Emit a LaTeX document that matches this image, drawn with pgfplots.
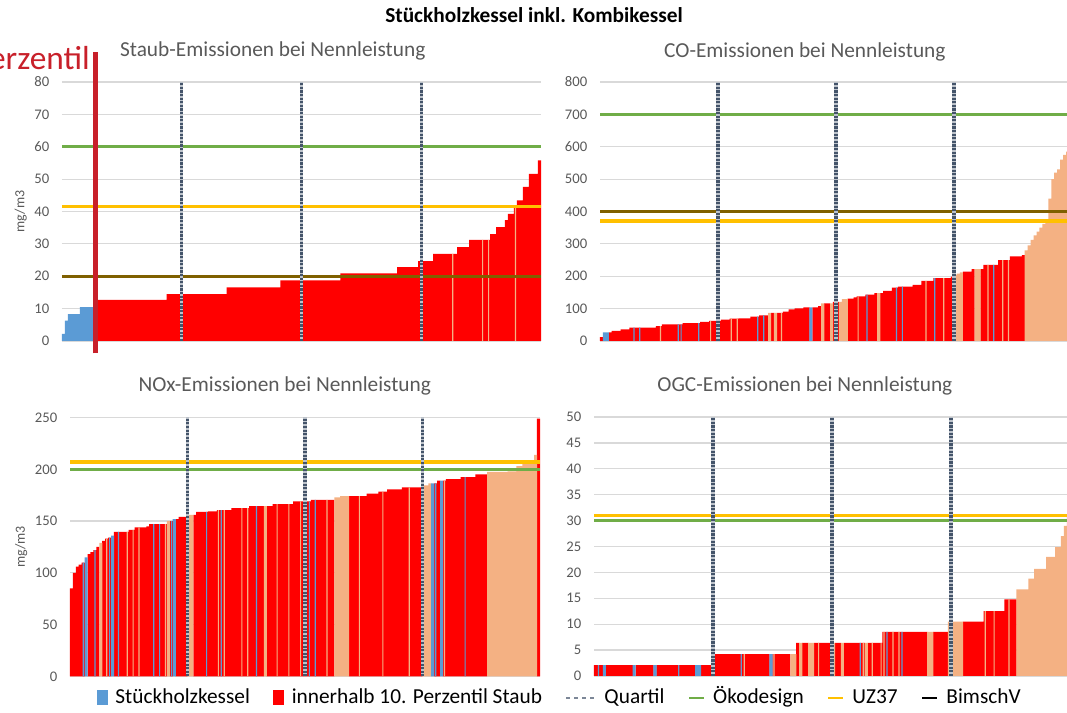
\documentclass[border=0pt]{standalone}
\usepackage{fontspec}
\setmainfont{Carlito}
\usepackage{pgfplots}
\usepackage{pgfplotstable}
\pgfplotsset{compat=1.18}

\definecolor{cblue}{HTML}{5B9BD5}
\definecolor{cred}{HTML}{FF0000}
\definecolor{csalmon}{HTML}{F4B183}
\definecolor{cgreen}{HTML}{70AD47}
\definecolor{cyellow}{HTML}{FFC000}
\definecolor{cbrown}{HTML}{7F6000}
\definecolor{cquart}{HTML}{44546A}
\definecolor{cgrid}{HTML}{D9D9D9}
\definecolor{ctext}{HTML}{595959}
\definecolor{cperz}{HTML}{C8202A}

% one row per device, sorted; c: 0 red, 1 salmon, 2 blue, 3 red+thin salmon, 4 red+thin blue
\pgfplotstableread[row sep=\\]{
y c\\
2.2 2\\ 6.3 2\\ 8.3 2\\ 8.3 2\\ 8.3 2\\ 8.3 2\\ 10.5 2\\ 10.5 2\\ 10.5 2\\ 10.5 2\\
10.5 2\\ 12.7 0\\ 12.7 0\\ 12.7 0\\ 12.7 0\\ 12.7 0\\ 12.7 0\\ 12.7 0\\ 12.7 0\\ 12.7 0\\
12.7 0\\ 12.7 0\\ 12.7 0\\ 12.7 0\\ 12.7 0\\ 12.7 0\\ 12.7 0\\ 12.7 0\\ 12.7 0\\ 12.7 0\\
12.7 0\\ 12.7 0\\ 12.7 0\\ 12.7 0\\ 12.7 0\\ 14.5 0\\ 14.5 0\\ 14.5 0\\ 14.5 0\\ 14.5 0\\
14.5 0\\ 14.5 0\\ 14.5 0\\ 14.5 0\\ 14.5 0\\ 14.5 0\\ 14.5 0\\ 14.5 0\\ 14.5 0\\ 14.5 0\\
14.5 0\\ 14.5 0\\ 14.5 0\\ 14.5 0\\ 14.5 0\\ 16.6 0\\ 16.6 0\\ 16.6 0\\ 16.6 0\\ 16.6 0\\
16.6 0\\ 16.6 0\\ 16.6 0\\ 16.6 0\\ 16.6 0\\ 16.6 0\\ 16.6 0\\ 16.6 0\\ 16.6 0\\ 16.6 0\\
16.6 0\\ 16.6 0\\ 16.6 0\\ 18.7 0\\ 18.7 0\\ 18.7 0\\ 18.7 0\\ 18.7 0\\ 18.7 0\\ 18.7 0\\
18.7 0\\ 18.7 0\\ 18.7 0\\ 18.7 0\\ 18.7 0\\ 18.7 0\\ 18.7 0\\ 18.7 0\\ 18.7 0\\ 18.7 0\\
18.7 0\\ 18.7 0\\ 18.7 0\\ 20.9 0\\ 20.9 0\\ 20.9 0\\ 20.9 0\\ 20.9 0\\ 20.9 0\\ 20.9 0\\
20.9 0\\ 20.9 0\\ 20.9 0\\ 20.9 0\\ 20.9 0\\ 20.9 0\\ 20.9 0\\ 20.9 0\\ 20.9 0\\ 20.9 0\\
20.9 0\\ 20.9 0\\ 22.8 0\\ 22.8 0\\ 22.8 0\\ 22.8 0\\ 22.8 0\\ 22.8 0\\ 22.8 0\\ 24.7 0\\
24.7 0\\ 24.7 0\\ 24.7 0\\ 24.7 0\\ 26.9 0\\ 26.9 0\\ 26.9 0\\ 26.9 0\\ 26.9 0\\ 26.9 0\\
26.9 3\\ 26.9 0\\ 29.0 0\\ 29.0 0\\ 29.0 0\\ 29.0 0\\ 31.2 0\\ 31.2 0\\ 31.2 0\\ 31.2 0\\
31.2 3\\ 31.2 0\\ 31.2 3\\ 33.0 0\\ 33.0 0\\ 35.2 0\\ 35.2 0\\ 35.2 0\\ 37.3 0\\ 39.3 0\\
39.3 0\\ 41.5 3\\ 43.4 0\\ 43.4 0\\ 47.6 0\\ 47.6 0\\ 51.6 0\\ 51.6 0\\ 51.6 0\\ 55.8 0\\
}\staub

\pgfplotstableread[row sep=\\]{
y c\\
12 0\\ 27 2\\ 27 2\\ 27 0\\ 31 0\\ 31 0\\ 31 0\\ 36 0\\ 36 0\\ 36 0\\
41 0\\ 41 4\\ 41 0\\ 41 4\\ 41 0\\ 41 0\\ 41 0\\ 41 0\\ 41 0\\ 46 0\\
46 3\\ 51 0\\ 51 0\\ 51 0\\ 51 0\\ 51 0\\ 51 4\\ 51 4\\ 55 0\\ 55 0\\
55 0\\ 55 0\\ 55 0\\ 55 4\\ 59 0\\ 59 0\\ 59 0\\ 62 3\\ 62 0\\ 62 0\\
62 0\\ 66 0\\ 66 0\\ 66 0\\ 69 3\\ 69 0\\ 69 3\\ 70 0\\ 70 0\\ 70 0\\
70 0\\ 75 0\\ 75 0\\ 75 4\\ 79 0\\ 79 4\\ 79 0\\ 87 1\\ 87 0\\ 87 1\\
87 0\\ 87 3\\ 91 0\\ 91 0\\ 98 0\\ 98 0\\ 101 0\\ 101 0\\ 101 0\\ 104 0\\
104 0\\ 104 2\\ 104 0\\ 104 0\\ 108 0\\ 116 1\\ 116 0\\ 116 0\\ 116 1\\ 121 0\\
121 0\\ 121 1\\ 129 1\\ 129 1\\ 131 0\\ 131 0\\ 135 0\\ 138 3\\ 138 0\\ 138 0\\
143 4\\ 143 0\\ 143 0\\ 148 0\\ 148 1\\ 148 0\\ 155 0\\ 155 0\\ 155 0\\ 165 0\\
165 4\\ 168 0\\ 168 4\\ 168 0\\ 168 0\\ 168 0\\ 173 0\\ 173 0\\ 173 0\\ 186 0\\
186 3\\ 186 0\\ 186 0\\ 194 4\\ 194 0\\ 194 0\\ 194 3\\ 194 0\\ 194 0\\ 199 0\\
205 1\\ 208 1\\ 212 1\\ 214 0\\ 214 0\\ 214 0\\ 222 0\\ 222 1\\ 222 1\\ 222 0\\
235 0\\ 235 3\\ 235 0\\ 235 4\\ 235 0\\ 250 0\\ 250 3\\ 250 0\\ 250 3\\ 261 0\\
261 0\\ 261 0\\ 261 0\\ 265 0\\ 280 1\\ 295 1\\ 312 1\\ 326 1\\ 338 1\\ 350 1\\
362 1\\ 376 1\\ 440 1\\ 500 1\\ 520 1\\ 530 1\\ 560 1\\ 575 1\\ 585 1\\ 600 1\\
}\co

\pgfplotstableread[row sep=\\]{
y c\\
85 0\\ 100 0\\ 106 0\\ 108 0\\ 110 4\\ 115 2\\ 118 0\\ 120 0\\ 122 4\\ 125 0\\
129 1\\ 131 0\\ 133 3\\ 134 4\\ 136 2\\ 139.5 0\\ 139.5 4\\ 139.5 0\\ 139.5 0\\ 139.5 3\\
141.5 0\\ 141.5 3\\ 144 0\\ 144 3\\ 144 0\\ 144 0\\ 145 0\\ 147 0\\ 147 4\\ 147 0\\
147 4\\ 147 0\\ 147 3\\ 150 1\\ 150 4\\ 152 2\\ 152 0\\ 154 0\\ 154 0\\ 154 0\\
156 1\\ 156 1\\ 156 0\\ 159 0\\ 159 0\\ 159 0\\ 159 4\\ 159.5 0\\ 159.5 0\\ 159.5 0\\
160.5 3\\ 160.5 4\\ 160.5 3\\ 160.5 0\\ 160.5 0\\ 162.5 0\\ 162.5 0\\ 162.5 0\\ 162.5 3\\ 162.5 0\\
162.5 3\\ 164.5 0\\ 164.5 0\\ 164.5 4\\ 164.5 0\\ 164.5 0\\ 164.5 1\\ 164.5 0\\ 164.5 0\\ 166.5 0\\
166.5 3\\ 166.5 0\\ 166.5 0\\ 166.5 0\\ 166.5 3\\ 166.5 0\\ 169 0\\ 169 0\\ 169 3\\ 169 0\\
169 0\\ 169 4\\ 170.5 0\\ 170.5 4\\ 170.5 0\\ 170.5 0\\ 170.5 0\\ 170.5 3\\ 170.5 0\\ 170.5 0\\
173 1\\ 173 1\\ 174 1\\ 174 1\\ 174 1\\ 174 0\\ 174 0\\ 174 0\\ 174 3\\ 174 0\\
174 0\\ 176.5 0\\ 176.5 0\\ 176.5 0\\ 176.5 0\\ 178.5 0\\ 178.5 3\\ 178.5 0\\ 180.5 0\\ 180.5 0\\
180.5 0\\ 180.5 0\\ 180.5 0\\ 182.5 0\\ 182.5 0\\ 182.5 3\\ 182.5 0\\ 182.5 0\\ 182.5 0\\ 182.5 0\\
184.5 1\\ 184.5 1\\ 186.5 1\\ 186.5 2\\ 186.5 4\\ 189 0\\ 189 2\\ 189 3\\ 190.5 0\\ 190.5 0\\
190.5 0\\ 190.5 0\\ 190.5 0\\ 192.5 0\\ 192.5 4\\ 192.5 0\\ 192.5 0\\ 192.5 0\\ 195 0\\ 195 0\\
195 0\\ 195 0\\ 197.5 1\\ 197.5 1\\ 197.5 1\\ 197.5 1\\ 197.5 1\\ 197.5 1\\ 197.5 1\\ 198 1\\
198 1\\ 198 1\\ 203 1\\ 203 1\\ 205 1\\ 205 1\\ 205 1\\ 205 1\\ 214 1\\ 249 0\\
}\nox

\pgfplotstableread[row sep=\\]{
y c\\
2.1 0\\ 2.1 4\\ 2.1 0\\ 2.1 2\\ 2.1 0\\ 2.1 0\\ 2.1 0\\ 2.1 0\\ 2.1 0\\ 2.1 0\\
2.1 0\\ 2.1 0\\ 2.1 0\\ 2.1 2\\ 2.1 0\\ 2.1 0\\ 2.1 0\\ 2.1 0\\ 2.1 0\\ 2.1 0\\
2.1 2\\ 2.1 0\\ 2.1 0\\ 2.1 0\\ 2.1 0\\ 2.1 0\\ 2.1 0\\ 2.1 0\\ 2.1 4\\ 2.1 0\\
2.1 0\\ 2.1 0\\ 2.1 0\\ 2.1 0\\ 2.1 2\\ 2.1 2\\ 2.1 0\\ 2.1 0\\ 2.1 0\\ 2.1 0\\
4.2 0\\ 4.2 0\\ 4.2 0\\ 4.2 0\\ 4.2 0\\ 4.2 0\\ 4.2 0\\ 4.2 0\\ 4.2 0\\ 4.2 4\\
4.2 3\\ 4.2 0\\ 4.2 0\\ 4.2 0\\ 4.2 0\\ 4.2 0\\ 4.2 0\\ 4.2 0\\ 4.2 0\\ 4.2 2\\
4.2 3\\ 4.2 0\\ 4.2 0\\ 4.2 0\\ 4.2 0\\ 4.2 0\\ 4.2 1\\ 4.2 1\\ 6.4 0\\ 6.4 1\\
6.4 0\\ 6.4 0\\ 6.4 1\\ 6.4 1\\ 6.4 0\\ 6.4 3\\ 6.4 0\\ 6.4 0\\ 6.4 0\\ 6.4 0\\
6.4 1\\ 6.4 0\\ 6.4 0\\ 6.4 1\\ 6.4 0\\ 6.4 0\\ 6.4 0\\ 6.4 0\\ 6.4 0\\ 6.4 4\\
6.4 3\\ 6.4 1\\ 6.4 0\\ 6.4 3\\ 6.4 0\\ 6.4 0\\ 6.4 3\\ 8.5 3\\ 8.5 4\\ 8.5 0\\
8.5 3\\ 8.5 0\\ 8.5 3\\ 8.5 4\\ 8.5 0\\ 8.5 0\\ 8.5 0\\ 8.5 0\\ 8.5 0\\ 8.5 0\\
8.5 0\\ 8.5 0\\ 8.5 1\\ 8.5 1\\ 8.5 0\\ 8.5 0\\ 8.5 0\\ 8.5 0\\ 8.5 0\\ 10.5 1\\
10.5 1\\ 10.5 1\\ 10.5 1\\ 10.5 1\\ 10.5 0\\ 10.5 0\\ 10.5 0\\ 10.5 0\\ 10.5 0\\ 10.5 0\\
10.5 0\\ 12.5 3\\ 12.5 0\\ 12.5 0\\ 12.5 3\\ 12.5 0\\ 12.5 0\\ 12.5 0\\ 14.8 0\\ 14.8 3\\
14.8 0\\ 14.8 0\\ 16.7 1\\ 16.7 1\\ 16.7 1\\ 16.7 1\\ 18.8 1\\ 18.8 1\\ 20.7 1\\ 20.7 1\\
20.7 1\\ 20.7 1\\ 23 1\\ 23 1\\ 23 1\\ 24.9 1\\ 24.9 1\\ 27 1\\ 29 1\\ 31 1\\
}\ogc

\pgfplotsset{
  panel/.style={
    scale only axis, height=194.25pt,
    xmin=-0.5, xmax=159.5, ymin=0,
    axis line style={draw=none},
    xtick=\empty,
    tick style={draw=none},
    ymajorgrids,
    major grid style={cgrid, line width=0.9pt},
    tick label style={font=\fontsize{11}{13}\selectfont, text=ctext},
    yticklabel style={xshift=-6pt},
    /pgf/number format/assume math mode=true,
    title style={font=\fontsize{16}{19}\selectfont, text=ctext, anchor=center},
    ylabel style={font=\fontsize{10.5}{12}\selectfont, text=ctext, anchor=center},
    clip=false,
  },
  bar base/.style={ybar, bar shift=0pt, draw=none, forget plot},
  bred/.style={bar base, bar width=1.06, fill=cred,
    restrict expr to domain={(\thisrow{c}==1)+(\thisrow{c}==2)}{0:0}},
  bsal/.style={bar base, bar width=1.06, fill=csalmon,
    restrict expr to domain={\thisrow{c}}{1:1}},
  bblue/.style={bar base, bar width=1.06, fill=cblue,
    restrict expr to domain={\thisrow{c}}{2:2}},
  tsal/.style={bar base, bar width=0.4, fill=csalmon,
    restrict expr to domain={\thisrow{c}}{3:3}},
  tblue/.style={bar base, bar width=0.4, fill=cblue,
    restrict expr to domain={\thisrow{c}}{4:4}},
  limit/.style={line width=2.6pt, forget plot},
  quart/.style={cquart!35, line width=2.6pt, forget plot,
    postaction={draw, cquart, line width=2.6pt, dash pattern=on 1.6pt off 1.1pt}},
  lineimg/.style={legend image code/.code={%
    \draw[#1, line width=2pt] (0pt,0pt) -- (11pt,0pt);}},
  boximg/.style={legend image code/.code={%
    \fill[#1] (0pt,-4.5pt) rectangle (7.5pt,6pt);}},
}

\newcommand{\bars}[1]{%
  \addplot[bred] table[x expr=\coordindex, y=y]{#1};
  \addplot[bsal] table[x expr=\coordindex, y=y]{#1};
  \addplot[bblue] table[x expr=\coordindex, y=y]{#1};
  \addplot[tsal] table[x expr=\coordindex, y=y]{#1};
  \addplot[tblue] table[x expr=\coordindex, y=y]{#1};
}

\begin{document}
\begin{tikzpicture}
\useasboundingbox (0,0) rectangle (800.25pt,534.75pt);

\node[font=\bfseries\fontsize{16}{19}\selectfont] at (400.5pt,523.5pt) {Stückholzkessel inkl. Kombikessel};
\node[anchor=base east, inner sep=0pt, text=cperz, font=\fontsize{25}{30}\selectfont] at (67.5pt,482.5pt) {10. Perzentil};

% Staub
\begin{axis}[panel, at={(46.5pt,279pt)}, anchor=south west, width=359.25pt,
  ymax=80, ytick={0,10,...,80},
  title={Staub-Emissionen bei Nennleistung},
  title style={at={(axis description cs:0.44,1.089)}},
  ylabel={mg/m3}, ylabel style={at={(axis description cs:-0.086,0.5)}}]
\bars{\staub}
\addplot[limit, cgreen] coordinates {(-0.5,60) (159.5,60)};
\addplot[limit, cyellow] coordinates {(-0.5,41.5) (159.5,41.5)};
\addplot[limit, cbrown] coordinates {(-0.5,20) (159.5,20)};
\addplot[quart] coordinates {(39.5,0) (39.5,80)};
\addplot[quart] coordinates {(79.5,0) (79.5,80)};
\addplot[quart] coordinates {(119.5,0) (119.5,80)};
\draw[cperz, line width=3.5pt] (axis cs:10.6,-3.8) -- (axis cs:10.6,89.4);
\end{axis}

% CO
\begin{axis}[panel, at={(450pt,279pt)}, anchor=south west, width=354pt,
  ymax=800, ytick={0,100,...,800},
  title={CO-Emissionen bei Nennleistung},
  title style={at={(axis description cs:0.434,1.085)}}]
\bars{\co}
\addplot[limit, cgreen] coordinates {(-0.5,700) (159.5,700)};
\addplot[limit, cbrown] coordinates {(-0.5,400) (159.5,400)};
\addplot[limit, cyellow] coordinates {(-0.5,371) (159.5,371)};
\addplot[quart] coordinates {(39.5,0) (39.5,800)};
\addplot[quart] coordinates {(79.5,0) (79.5,800)};
\addplot[quart] coordinates {(119.5,0) (119.5,800)};
\end{axis}

% NOx
\begin{axis}[panel, at={(52.5pt,27.375pt)}, anchor=south west, width=352.5pt,
  ymax=250, ytick={0,50,...,250},
  title={NOx-Emissionen bei Nennleistung},
  title style={at={(axis description cs:0.457,1.09)}},
  ylabel={mg/m3}, ylabel style={at={(axis description cs:-0.104,0.5)}},
  legend columns=-1,
  legend style={draw=none, fill=none, at={(1.04,-0.083)}, anchor=center,
    font=\fontsize{16}{19}\selectfont,
    nodes={text height=12pt, text depth=3.5pt, inner xsep=0pt},
    /tikz/every odd column/.append style={column sep=6pt},
    /tikz/every even column/.append style={column sep=17.5pt}},
  legend cell align=left]
\bars{\nox}
\addplot[limit, cyellow] coordinates {(-0.5,207) (159.5,207)};
\addplot[limit, cgreen] coordinates {(-0.5,200) (159.5,200)};
\addplot[quart] coordinates {(39.5,0) (39.5,250)};
\addplot[quart] coordinates {(79.5,0) (79.5,250)};
\addplot[quart] coordinates {(119.5,0) (119.5,250)};
\addlegendimage{boximg=cblue}
\addlegendentry{Stückholzkessel}
\addlegendimage{boximg=cred}
\addlegendentry{innerhalb 10. Perzentil Staub}
\addlegendimage{legend image code/.code={\draw[cquart!70, line width=1.3pt, dash pattern=on 3pt off 3pt] (0pt,0pt) -- (22pt,0pt);}}
\addlegendentry{Quartil}
\addlegendimage{lineimg=cgreen}
\addlegendentry{Ökodesign}
\addlegendimage{lineimg=cyellow}
\addlegendentry{UZ37}
\addlegendimage{lineimg=black}
\addlegendentry{BimschV}
\end{axis}

% OGC
\begin{axis}[panel, at={(445.5pt,27.75pt)}, anchor=south west, width=357pt,
  ymax=50, ytick={0,5,...,50},
  title={OGC-Emissionen bei Nennleistung},
  title style={at={(axis description cs:0.443,1.089)}}]
\bars{\ogc}
\addplot[limit, cyellow] coordinates {(-0.5,31) (159.5,31)};
\addplot[limit, cgreen] coordinates {(-0.5,30) (159.5,30)};
\addplot[quart] coordinates {(39.5,0) (39.5,50)};
\addplot[quart] coordinates {(79.5,0) (79.5,50)};
\addplot[quart] coordinates {(119.5,0) (119.5,50)};
\end{axis}
\end{tikzpicture}
\end{document}
